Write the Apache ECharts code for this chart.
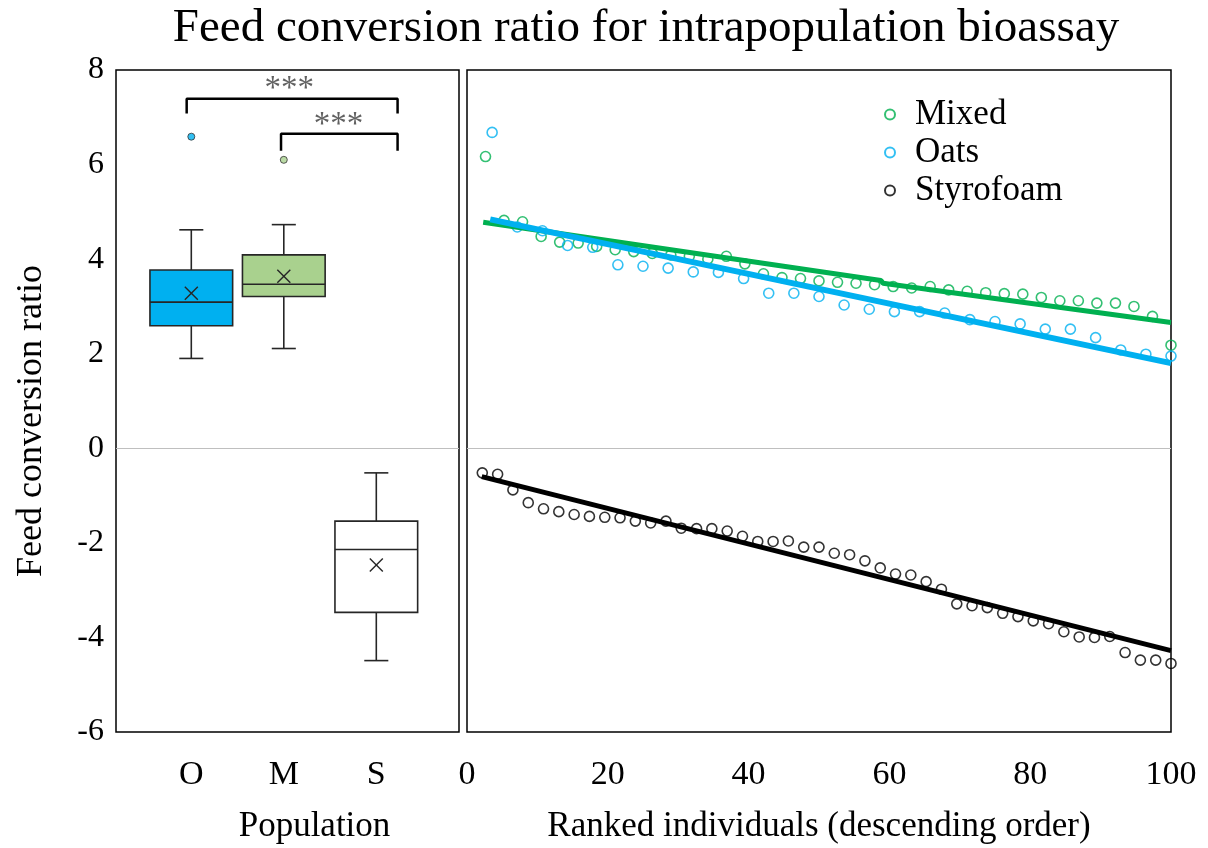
<!DOCTYPE html>
<html>
<head>
<meta charset="utf-8">
<script src="https://cdn.jsdelivr.net/npm/echarts@6/dist/echarts.min.js"></script>
<style>
html,body{margin:0;padding:0;background:#fff;}
#chart{width:1208px;height:848px;}
</style>
</head>
<body>
<div id="chart"></div>
<script>
// ---------- DATA ----------
const titleText = 'Feed conversion ratio for intrapopulation bioassay';
const yAxisTitle = 'Feed conversion ratio';
const leftXTitle = 'Population';
const rightXTitle = 'Ranked individuals (descending order)';

const popCats = ['O', 'M', 'S'];
const popPos = [1, 2, 3];
const boxMin = [1.90, 2.11, -4.49];
const boxQ1 = [2.59, 3.21, -3.47];
const boxMedian = [3.09, 3.47, -2.14];
const boxQ3 = [3.77, 4.09, -1.54];
const boxMax = [4.62, 4.73, -0.52];
const boxMean = [3.28, 3.64, -2.47];
const outlierPos = [1, 2];
const outlierVal = [6.59, 6.10];

const sigLabels = ['***', '***'];
const bracket1X = [0.95, 0.95, 3.23, 3.23];
const bracket1Y = [7.08, 7.39, 7.39, 7.08];
const bracket2X = [1.97, 1.97, 3.23, 3.23];
const bracket2Y = [6.29, 6.65, 6.65, 6.29];
const sigX = [2.06, 2.59];
const sigY = [7.60, 6.82];

const seriesNames = ['Mixed', 'Oats', 'Styrofoam'];

const mixedX = [2.63, 5.26, 7.89, 10.53, 13.16, 15.79, 18.42, 21.05, 23.68, 26.32, 28.95, 31.58, 34.21, 36.84, 39.47, 42.11, 44.74, 47.37, 50.00, 52.63, 55.26, 57.89, 60.53, 63.16, 65.79, 68.42, 71.05, 73.68, 76.32, 78.95, 81.58, 84.21, 86.84, 89.47, 92.11, 94.74, 97.37, 100];
const mixedY = [6.17, 4.82, 4.79, 4.48, 4.36, 4.34, 4.27, 4.20, 4.16, 4.12, 4.09, 4.06, 4.00, 4.06, 3.90, 3.69, 3.61, 3.59, 3.54, 3.51, 3.49, 3.46, 3.42, 3.39, 3.42, 3.35, 3.32, 3.29, 3.27, 3.26, 3.19, 3.12, 3.12, 3.07, 3.07, 3.00, 2.79, 2.18];

const oatsX = [3.57, 7.14, 10.71, 14.29, 17.86, 21.43, 25.00, 28.57, 32.14, 35.71, 39.29, 42.86, 46.43, 50.00, 53.57, 57.14, 60.71, 64.29, 67.86, 71.43, 75.00, 78.57, 82.14, 85.71, 89.29, 92.86, 96.43, 100];
const oatsY = [6.68, 4.68, 4.60, 4.29, 4.25, 3.88, 3.85, 3.81, 3.73, 3.72, 3.59, 3.28, 3.28, 3.21, 3.03, 2.94, 2.89, 2.89, 2.86, 2.72, 2.68, 2.63, 2.52, 2.52, 2.34, 2.08, 1.99, 1.95];

const styroX = [2.17, 4.35, 6.52, 8.70, 10.87, 13.04, 15.22, 17.39, 19.57, 21.74, 23.91, 26.09, 28.26, 30.43, 32.61, 34.78, 36.96, 39.13, 41.30, 43.48, 45.65, 47.83, 50.00, 52.17, 54.35, 56.52, 58.70, 60.87, 63.04, 65.22, 67.39, 69.57, 71.74, 73.91, 76.09, 78.26, 80.43, 82.61, 84.78, 86.96, 89.13, 91.30, 93.48, 95.65, 97.83, 100];
const styroY = [-0.52, -0.55, -0.88, -1.15, -1.28, -1.34, -1.40, -1.44, -1.46, -1.47, -1.54, -1.58, -1.54, -1.69, -1.70, -1.70, -1.75, -1.86, -1.97, -1.97, -1.96, -2.09, -2.09, -2.22, -2.25, -2.38, -2.53, -2.66, -2.68, -2.82, -2.98, -3.29, -3.33, -3.37, -3.49, -3.56, -3.65, -3.71, -3.88, -3.99, -4.00, -3.98, -4.32, -4.48, -4.48, -4.55];

const mixedTrendX = [2.3, 58.8, 59.1, 100];
const mixedTrendY = [4.78, 3.55, 3.49, 2.66];
const oatsTrendX = [3.3, 100];
const oatsTrendY = [4.84, 1.80];
const styroTrendX = [2.1, 100];
const styroTrendY = [-0.60, -4.28];

const yTicks = { min: -6, max: 8, interval: 2 };
const rightXTicks = { min: 0, max: 100, interval: 20 };

// ---------- STYLE ----------
const FONT = 'Liberation Serif';
const cGreen = '#00B050';
const cBlue = '#00B0F0';
const cBlack = '#000000';
const boxFill = ['#00B0F0', '#A9D18E', '#FFFFFF'];
const outFill = ['#00B0F0', '#A9D18E'];

const zip = (xs, ys) => xs.map((x, i) => [x, ys[i]]);

function renderBox(params, api) {
  const x = api.value(0);
  const lo = api.coord([x, api.value(1)]);
  const q1 = api.coord([x, api.value(2)]);
  const med = api.coord([x, api.value(3)]);
  const q3 = api.coord([x, api.value(4)]);
  const hi = api.coord([x, api.value(5)]);
  const mean = api.coord([x, api.value(6)]);
  const bw = api.size([0.894, 0])[0];
  const cw = api.size([0.26, 0])[0];
  const cx = lo[0];
  const stroke = '#262626';
  const ls = { stroke: stroke, lineWidth: 1.6 };
  const m = 6.5;
  return {
    type: 'group',
    children: [
      { type: 'line', shape: { x1: cx, y1: hi[1], x2: cx, y2: q3[1] }, style: ls },
      { type: 'line', shape: { x1: cx, y1: q1[1], x2: cx, y2: lo[1] }, style: ls },
      { type: 'line', shape: { x1: cx - cw / 2, y1: hi[1], x2: cx + cw / 2, y2: hi[1] }, style: ls },
      { type: 'line', shape: { x1: cx - cw / 2, y1: lo[1], x2: cx + cw / 2, y2: lo[1] }, style: ls },
      { type: 'rect', shape: { x: cx - bw / 2, y: q3[1], width: bw, height: q1[1] - q3[1] },
        style: { fill: boxFill[params.dataIndex], stroke: stroke, lineWidth: 1.6 } },
      { type: 'line', shape: { x1: cx - bw / 2, y1: med[1], x2: cx + bw / 2, y2: med[1] }, style: ls },
      { type: 'line', shape: { x1: cx - m, y1: mean[1] - m, x2: cx + m, y2: mean[1] + m }, style: { stroke: stroke, lineWidth: 1.4 } },
      { type: 'line', shape: { x1: cx - m, y1: mean[1] + m, x2: cx + m, y2: mean[1] - m }, style: { stroke: stroke, lineWidth: 1.4 } }
    ]
  };
}

const yLabelStyle = { fontFamily: FONT, fontSize: 32, color: '#000' };
const xLabelStyle = { fontFamily: FONT, fontSize: 34, color: '#000' };
const nameStyle = { fontFamily: FONT, fontSize: 35, color: '#000' };
const zeroLine = {
  silent: true, symbol: 'none', label: { show: false },
  lineStyle: { color: '#BFBFBF', width: 1, type: 'solid' },
  data: [{ yAxis: 0 }]
};

const scatterBase = (name, xs, ys, color) => ({
  name: name, type: 'scatter', xAxisIndex: 1, yAxisIndex: 1,
  symbol: 'circle', symbolSize: 10,
  itemStyle: { color: 'rgba(255,255,255,0)', borderColor: color, borderWidth: 1.6 },
  data: zip(xs, ys), z: 3
});
const trendBase = (xs, ys, color, w) => ({
  type: 'line', xAxisIndex: 1, yAxisIndex: 1, symbol: 'none',
  lineStyle: { color: color, width: w }, data: zip(xs, ys), z: 4, silent: true
});

const chart = echarts.init(document.getElementById('chart'), null, { renderer: 'canvas' });
const option = {
  animation: false,
  backgroundColor: '#fff',
  graphic: [
    { type: 'text', x: 646, y: 29, style: { text: titleText, fontFamily: FONT, fontSize: 47, fill: '#000', textAlign: 'center', textVerticalAlign: 'middle' } },
    { type: 'text', x: 32, y: 421, rotation: Math.PI / 2, style: { text: yAxisTitle, fontFamily: FONT, fontSize: 36, fill: '#000', textAlign: 'center', textVerticalAlign: 'middle' } }
  ],
  legend: {
    data: seriesNames, orient: 'vertical', left: 879, top: 92,
    itemWidth: 10, itemHeight: 10, itemGap: 3,
    textStyle: { fontFamily: FONT, fontSize: 35, color: '#000', padding: [0, 0, 0, 15] }
  },
  grid: [
    { left: 116, top: 70, width: 343, height: 662, show: true, borderColor: '#000', borderWidth: 1.5, backgroundColor: 'transparent', outerBoundsMode: 'none', containLabel: false },
    { left: 467, top: 70, width: 704, height: 662, show: true, borderColor: '#000', borderWidth: 1.5, backgroundColor: 'transparent', outerBoundsMode: 'none', containLabel: false }
  ],
  xAxis: [
    { gridIndex: 0, type: 'value', min: 0.186, max: 3.894,
      axisLine: { show: false }, axisTick: { show: false }, splitLine: { show: false },
      axisLabel: Object.assign({ customValues: popPos, margin: 26, formatter: v => popCats[Math.round(v) - 1] || '' }, xLabelStyle),
      name: leftXTitle, nameLocation: 'middle', nameGap: 77,
      nameTextStyle: Object.assign({ padding: [0, 0, 0, 54] }, nameStyle) },
    { gridIndex: 1, type: 'value', min: rightXTicks.min, max: rightXTicks.max, interval: rightXTicks.interval,
      axisLine: { show: false }, axisTick: { show: false }, splitLine: { show: false },
      axisLabel: Object.assign({ margin: 26 }, xLabelStyle),
      name: rightXTitle, nameLocation: 'middle', nameGap: 77, nameTextStyle: nameStyle }
  ],
  yAxis: [
    { gridIndex: 0, type: 'value', min: yTicks.min, max: yTicks.max, interval: yTicks.interval,
      axisLine: { show: false }, axisTick: { show: false }, splitLine: { show: false },
      axisLabel: Object.assign({ margin: 12 }, yLabelStyle) },
    { gridIndex: 1, type: 'value', min: yTicks.min, max: yTicks.max, interval: yTicks.interval,
      axisLine: { show: false }, axisTick: { show: false }, splitLine: { show: false },
      axisLabel: { show: false } }
  ],
  series: [
    { type: 'custom', xAxisIndex: 0, yAxisIndex: 0, renderItem: renderBox, silent: true,
      data: popPos.map((p, i) => [p, boxMin[i], boxQ1[i], boxMedian[i], boxQ3[i], boxMax[i], boxMean[i]]),
      markLine: zeroLine, z: 2 },
    { type: 'scatter', xAxisIndex: 0, yAxisIndex: 0, symbolSize: 7, silent: true,
      data: outlierPos.map((p, i) => ({ value: [p, outlierVal[i]], itemStyle: { color: outFill[i], borderColor: '#333', borderWidth: 1 } })) },
    { type: 'line', xAxisIndex: 0, yAxisIndex: 0, symbol: 'none', silent: true,
      lineStyle: { color: '#000', width: 2.5 }, data: zip(bracket1X, bracket1Y) },
    { type: 'line', xAxisIndex: 0, yAxisIndex: 0, symbol: 'none', silent: true,
      lineStyle: { color: '#000', width: 2.5 }, data: zip(bracket2X, bracket2Y) },
    { type: 'scatter', xAxisIndex: 0, yAxisIndex: 0, symbolSize: 1, silent: true,
      itemStyle: { color: 'rgba(0,0,0,0)' },
      label: { show: true, position: 'inside', formatter: p => sigLabels[p.dataIndex], fontFamily: FONT, fontSize: 33, color: '#3a3a3a' },
      data: zip(sigX, sigY) },
    Object.assign(scatterBase('Mixed', mixedX, mixedY, cGreen), { markLine: zeroLine }),
    scatterBase('Oats', oatsX, oatsY, cBlue),
    scatterBase('Styrofoam', styroX, styroY, cBlack),
    trendBase(mixedTrendX, mixedTrendY, cGreen, 5),
    trendBase(oatsTrendX, oatsTrendY, cBlue, 6),
    trendBase(styroTrendX, styroTrendY, cBlack, 5)
  ]
};
chart.setOption(option);
</script>
</body>
</html>
